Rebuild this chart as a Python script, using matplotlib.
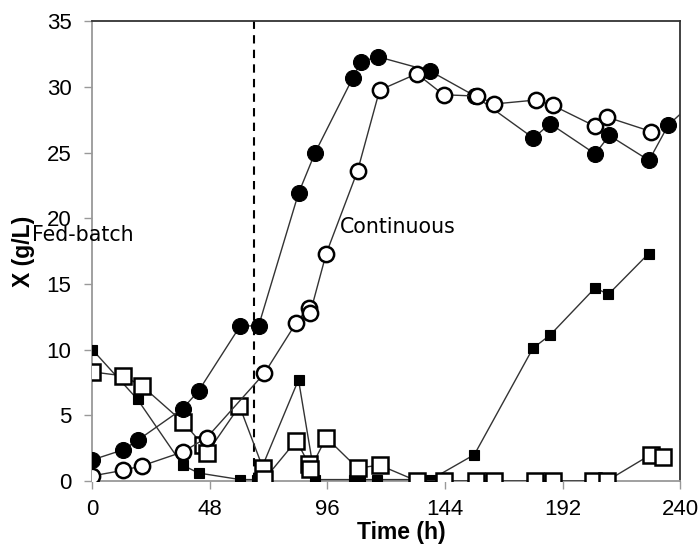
import matplotlib
matplotlib.use("Agg")
import matplotlib.pyplot as plt

# Filled circles
t_fc = [0, 12.5, 18.6, 36.9, 43.4, 60.4, 67.9, 84.2, 91.0, 106.4, 109.7, 116.5,
        138.0, 156.3, 180.1, 186.9, 205.3, 211.1, 227.3, 235.2, 244.0]
x_fc = [1.6, 2.36, 3.1, 5.5, 6.85, 11.8, 11.8, 21.9, 25.0, 30.7, 31.9, 32.3,
        31.2, 29.3, 26.1, 27.2, 24.9, 26.3, 24.4, 27.1, 28.6]

# Open circles
t_oc = [0, 12.5, 20.3, 36.9, 46.8, 70.3, 83.3, 88.4, 89.0, 95.5, 108.3, 117.3,
        132.5, 143.4, 157.0, 164.2, 181.1, 187.9, 205.3, 210.1, 228.2]
x_oc = [0.38, 0.8, 1.15, 2.2, 3.3, 8.2, 12.05, 13.2, 12.8, 17.3, 23.6, 29.75,
        31.0, 29.4, 29.3, 28.7, 29.0, 28.6, 27.0, 27.7, 26.6]

# Filled squares
t_fs = [0, 18.5, 36.9, 43.4, 60.4, 67.2, 84.2, 91.0, 106.7, 109.4, 116.2,
        138.2, 156.0, 179.9, 186.9, 205.3, 210.7, 227.1]
x_fs = [10.0, 6.2, 1.2, 0.6, 0.1, 0.1, 7.7, 0.1, 0.1, 0.1, 0.1,
        0.1, 2.0, 10.1, 11.1, 14.7, 14.2, 17.3]

# Open squares
t_os = [0, 12.5, 20.5, 36.9, 45.4, 46.8, 60.1, 69.7, 70.3, 83.3, 88.4, 89.0, 95.5,
        108.3, 117.3, 132.5, 143.4, 156.7, 164.2, 180.8, 187.9, 204.6, 210.1,
        228.0, 232.9]
x_os = [8.3, 8.0, 7.2, 4.5, 2.7, 2.1, 5.7, 0.97, 0.13, 3.07, 1.3, 0.9, 3.3,
        0.97, 1.2, 0.0, 0.0, 0.0, 0.0, 0.0, 0.0, 0.0, 0.0, 2.0, 1.85]

x_ticks = [0, 48, 96, 144, 192, 240]
y_ticks = [0, 5, 10, 15, 20, 25, 30, 35]
switch_time = 66

fig = plt.figure(figsize=(6.99, 5.44), dpi=100)
ax = fig.add_axes([0.132, 0.116, 0.841, 0.845])

line_kw = dict(color="#333333", linewidth=1.0, clip_on=True)
ax.plot(t_fs, x_fs, marker="s", markersize=7, markerfacecolor="black",
        markeredgecolor="black", markeredgewidth=0.8, zorder=3, **line_kw)
ax.plot(t_os, x_os, marker="s", markersize=12, markerfacecolor="white",
        markeredgecolor="black", markeredgewidth=1.8, zorder=4, **line_kw)
ax.plot(t_fc, x_fc, marker="o", markersize=11.5, markerfacecolor="black",
        markeredgecolor="black", markeredgewidth=0.8, zorder=5, **line_kw)
ax.plot(t_oc, x_oc, marker="o", markersize=11, markerfacecolor="white",
        markeredgecolor="black", markeredgewidth=1.8, zorder=6, **line_kw)

ax.axvline(switch_time, color="black", linewidth=1.5, linestyle=(0, (4, 3)), zorder=2)

ax.set_xlim(0, 240)
ax.set_ylim(0, 35)
ax.set_xticks(x_ticks)
ax.set_yticks(y_ticks)

tick_font = dict(family=["Liberation Sans", "DejaVu Sans"], size=16)
ax.set_xticklabels([str(v) for v in x_ticks], **tick_font)
ax.set_yticklabels([str(v) for v in y_ticks], **tick_font)
ax.tick_params(axis="y", direction="out", length=6, width=1, color="#999999", pad=9)
ax.tick_params(axis="x", direction="out", length=6, width=1, color="#999999", pad=7)

for s in ["left", "bottom"]:
    ax.spines[s].set_color("#999999")
    ax.spines[s].set_linewidth(1.3)
for s in ["top", "right"]:
    ax.spines[s].set_color("#333333")
    ax.spines[s].set_linewidth(1.3)

label_font = dict(family=["Liberation Sans", "DejaVu Sans"], size=16.5, weight="bold")
ax.set_xlabel("Time (h)", **label_font)
ax.set_ylabel("X (g/L)", labelpad=8, **label_font)
ax.xaxis.set_label_coords(0.525, -0.088)

ax.text(-24.5, 18.7, "Fed-batch", fontsize=14.8, family="DejaVu Sans",
        ha="left", va="center", clip_on=False, zorder=7)
ax.text(101.2, 19.35, "Continuous", fontsize=14.8, family="DejaVu Sans",
        ha="left", va="center", zorder=7)

fig.savefig("out.png", dpi=100)
